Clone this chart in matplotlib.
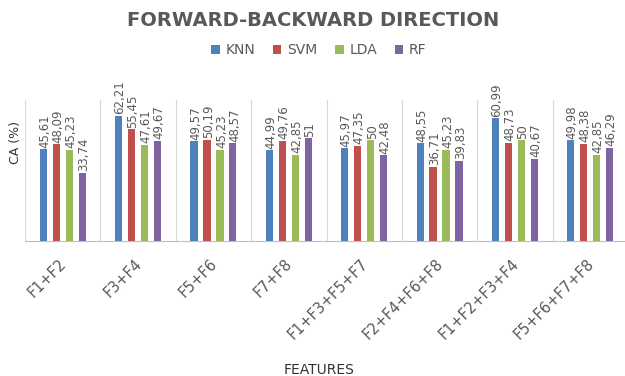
import matplotlib.pyplot as plt
import matplotlib.transforms as mtransforms
import numpy as np

features = ["F1+F2", "F3+F4", "F5+F6", "F7+F8",
            "F1+F3+F5+F7", "F2+F4+F6+F8", "F1+F2+F3+F4", "F5+F6+F7+F8"]
knn = [45.61, 62.21, 49.57, 44.99, 45.97, 48.55, 60.99, 49.98]
svm = [48.09, 55.45, 50.19, 49.76, 47.35, 36.71, 48.73, 48.38]
lda = [45.23, 47.61, 45.23, 42.85, 50, 45.23, 50, 42.85]
rf = [33.74, 49.67, 48.57, 51, 42.48, 39.83, 40.67, 46.29]

series = [("KNN", knn, "#4F81BD"), ("SVM", svm, "#C0504D"),
          ("LDA", lda, "#9BBB59"), ("RF", rf, "#8064A2")]

text_grey = "#595959"

fig = plt.figure(figsize=(6.25, 3.76), dpi=100)
ax = fig.add_axes([25 / 625, 1 - 241 / 376, 603 / 625, 141 / 376])

x = np.arange(len(features))
slot = 0.172
width = 0.095

for i, (name, vals, color) in enumerate(series):
    pos = x + (i - 1.5) * slot
    bars = ax.bar(pos, vals, width, color=color, label=name, zorder=3)
    for b, v in zip(bars, vals):
        txt = f"{v:g}".replace(".", ",")
        ax.text(b.get_x() + b.get_width() / 2 + 0.02, v + 0.8, txt,
                rotation=90, ha="center", va="bottom",
                fontsize=8.5, color=text_grey)

# category separators
for b in np.arange(-0.5, len(features), 1.0):
    ax.axvline(b, color="#D9D9D9", lw=0.8, zorder=1)

ax.set_xlim(-0.5, len(features) - 0.5)
ax.set_ylim(0, 70)
ax.set_yticks([])
ax.set_xticks(x)
ax.set_xticklabels(features, rotation=45, ha="right", va="top",
                   rotation_mode="anchor", fontsize=10.5, color=text_grey)
ax.tick_params(axis="x", length=0, pad=11)
shift = mtransforms.ScaledTranslation(-4 / 100, 0, fig.dpi_scale_trans)
for lbl in ax.get_xticklabels():
    lbl.set_transform(lbl.get_transform() + shift)
for s in ["top", "right", "left"]:
    ax.spines[s].set_visible(False)
ax.spines["bottom"].set_color("#BFBFBF")

fig.text(313 / 625, 1 - 21 / 376, "FORWARD-BACKWARD DIRECTION", ha="center",
         va="center", fontsize=14, fontweight="bold", color=text_grey)
fig.legend(loc="center", bbox_to_anchor=(319 / 625, 1 - 50 / 376), ncol=4,
           frameon=False, fontsize=10, handlelength=0.6, handleheight=0.6,
           handletextpad=0.4, columnspacing=1.3, labelcolor=text_grey)
fig.text(319 / 625, 1 - 370 / 376, "FEATURES", ha="center", va="center",
         fontsize=10, color="#333333")
fig.text(16 / 625, 1 - 143 / 376, "CA (%)", rotation=90, ha="center",
         va="center", fontsize=9, color="#333333")

plt.savefig("out.png", dpi=100)
